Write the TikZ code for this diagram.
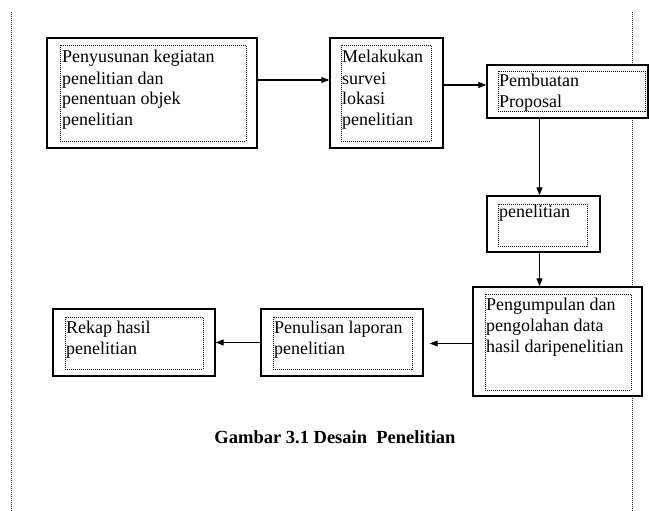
\documentclass[tikz,border=0pt]{standalone}
\usepackage{fontspec}
\setmainfont{Liberation Serif}
\usetikzlibrary{arrows.meta}
\begin{document}
\begin{tikzpicture}[x=1pt,y=-1pt,
  outer/.style={draw=black, line width=1.4pt, fill=white, inner sep=0pt},
  inner/.style={draw=black, line width=0.8pt, dash pattern=on 1pt off 1pt, inner sep=0pt},
  label/.style={anchor=base west, inner sep=0pt, align=left,
    font=\fontsize{18}{21}\selectfont},
  arr/.style={line width=1.2pt, -{Triangle[length=8pt,width=6pt]}},
  margin/.style={line width=0.8pt, dash pattern=on 1pt off 1pt, draw=black!80}]

\useasboundingbox (0,0) rectangle (649,511);

% page margin guides
\coordinate (mlt) at (11,12);
\coordinate (mlb) at (11,511);
\coordinate (mrt) at (632,12);
\coordinate (mrb) at (632,511);
\draw[margin] (mlt) -- (mlb);
\draw[margin] (mrt) -- (mrb);

% outer frames
\node[outer, minimum width=210pt, minimum height=110pt] (b1) at (152,93) {};
\node[outer, minimum width=113pt, minimum height=110pt] (b2) at (386.5,93) {};
\node[outer, minimum width=161pt, minimum height=53pt]  (b3) at (567.5,91.5) {};
\node[outer, minimum width=113pt, minimum height=56pt]  (b4) at (543.5,224) {};
\node[outer, minimum width=169pt, minimum height=109pt] (b5) at (557.5,341.5) {};
\node[outer, minimum width=162pt, minimum height=67pt]  (b6) at (342,342.5) {};
\node[outer, minimum width=162pt, minimum height=67pt]  (b7) at (134,342.5) {};

% dotted text frames
\node[inner, minimum width=186pt, minimum height=96pt] (i1) at (153,93) {};
\node[inner, minimum width=90pt,  minimum height=96pt] (i2) at (386,93) {};
\node[inner, minimum width=147pt, minimum height=40pt] (i3) at (571.5,91) {};
\node[inner, minimum width=89pt,  minimum height=42pt] (i4) at (542.5,225) {};
\node[inner, minimum width=146pt, minimum height=96pt] (i5) at (558,342) {};
\node[inner, minimum width=139pt, minimum height=52pt] (i6) at (342.5,343) {};
\node[inner, minimum width=138pt, minimum height=52pt] (i7) at (134,343) {};

% texts (anchored at the baseline of their last line)
\node[label] (t1) at (62,126) {Penyusunan kegiatan\\penelitian dan\\penentuan objek\\penelitian};
\node[label] (t2) at (342,126) {Melakukan\\survei\\lokasi\\penelitian};
\node[label] (t3) at (499,108) {Pembuatan\\Proposal};
\node[label] (t4) at (499,218) {penelitian};
\node[label] (t5) at (486,352) {Pengumpulan dan\\pengolahan data\\hasil daripenelitian};
\node[label] (t6) at (274,354) {Penulisan laporan\\penelitian};
\node[label] (t7) at (66,354) {Rekap hasil\\penelitian};

% caption
\node[anchor=base, inner sep=0pt, font=\fontsize{18.5}{21}\selectfont\bfseries] (cap) at (335,443)
  {Gambar 3.1 Desain\ \ Penelitian};

% connectors
\coordinate (p12) at ([yshift=13pt]b1.east);
\draw[arr] (p12) -- (p12 -| b2.west);
\coordinate (p23) at ([yshift=8pt]b2.east);
\draw[arr] (p23) -- (p23 -| b3.west);
\coordinate (p34) at ([xshift=-4pt]b4.north);
\draw[arr] (p34 |- b3.south) -- (p34);
\coordinate (p45) at ([xshift=-4pt]b4.south);
\draw[arr] (p45) -- (p45 |- b5.north);
\coordinate (p56) at ([yshift=-2pt]b5.west);
\draw[arr, shorten >=6pt] (p56) -- (p56 -| b6.east);
\draw[arr] (b6.west) -- (b6.west -| b7.east);
\end{tikzpicture}
\end{document}
